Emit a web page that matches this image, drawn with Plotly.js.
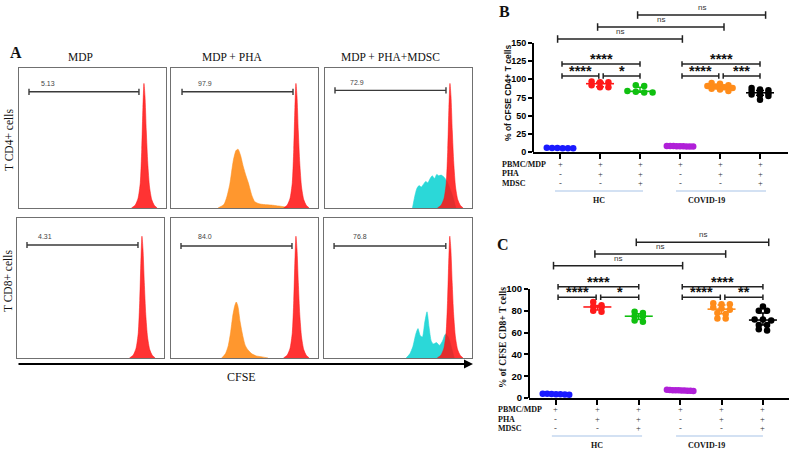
<!DOCTYPE html>
<html><head><meta charset="utf-8">
<script src="https://cdn.plot.ly/plotly-3.0.1.min.js"></script>
<style>html,body{margin:0;padding:0;background:#fff}#chart{width:799px;height:461px}</style>
</head><body><div id="chart"></div>
<script>
// ---------- Panel A: CFSE histogram curves (x: % of CFSE axis, y: % of box height) ----------
const red1X = [76.5, 79, 81, 82.5, 83.5, 84.3, 85, 85.7, 86.6, 87.6, 88.8, 90.3, 92, 94];
const red1Y = [0, 2, 7, 18, 42, 72, 89, 80, 55, 32, 15, 6, 2, 0];
const red2X = [76.5, 79, 81, 82.5, 83.5, 84.3, 85, 85.7, 86.6, 87.6, 88.8, 90.3, 92, 94];
const red2Y = [0, 2, 7, 18, 41, 70, 87, 78, 54, 31, 15, 6, 2, 0];
const orange1X = [32, 36, 38, 40, 42.4, 44.2, 45.6, 47.2, 49.2, 51, 52.6, 55, 57, 60, 63, 69, 76, 80];
const orange1Y = [0, 2.5, 8, 17, 34, 41, 42, 38, 29.5, 23, 18, 9, 4.5, 3, 2.5, 2, 1, 0];
const orange2X = [34.5, 37, 39, 40.5, 42, 43.3, 44.4, 45.5, 47, 49, 50.5, 52.4, 55, 58, 62, 66];
const orange2Y = [0, 3, 9, 18, 30, 37, 40, 37, 26, 15, 9, 5.7, 3, 1.5, 0.8, 0];
const cyan1X = [59.5, 61, 62.5, 64, 65.5, 67, 68.5, 70, 71.5, 73, 74.5, 76, 77.5, 79, 81, 83, 85, 87, 89];
const cyan1Y = [0, 8, 14, 16, 15, 17, 19, 18, 21, 23, 21, 24, 23, 23.5, 22, 19, 14, 8, 0];
const cyan2X = [55.5, 58, 60, 62, 63.5, 65, 66.5, 68, 69.6, 71, 72.5, 74, 76, 78, 80, 82, 84, 86, 88];
const cyan2Y = [0, 3, 8, 17, 21, 16, 15, 25, 33, 22, 12, 10, 11, 9, 12, 17, 15, 8, 0];
const gateLabels = ['5.13', '97.9', '72.9', '4.31', '84.0', '76.8'];
const columnTitles = ['MDP', 'MDP + PHA', 'MDP + PHA+MDSC'];
const rowTitles = ['T CD4+ cells', 'T CD8+ cells'];

// ---------- Panels B / C: groups ----------
const conditionLabels = ['PBMC/MDP', 'PHA', 'MDSC'];
const conditionSigns = [
  ['+', '+', '+', '+', '+', '+'],
  ['-', '+', '+', '-', '+', '+'],
  ['-', '-', '+', '-', '-', '+']
];
const cohortLabels = ['HC', 'COVID-19'];

// % of CFSE CD4+ T cells
const cd4_hc_mdp = [5.2, 5.6, 5.0, 5.4, 5.8, 5.3];
const cd4_hc_pha = [97, 96, 96, 92, 89, 89];
const cd4_hc_mdsc = [92, 91, 84, 83, 82, 82];
const cd4_cov_mdp = [7.5, 8.0, 7.8, 8.2, 7.6, 8.4, 7.9, 8.1, 7.7];
const cd4_cov_pha = [95, 94, 92, 91, 90, 89, 88, 87, 86, 84];
const cd4_cov_mdsc = [88, 86, 85, 84, 82, 81, 79, 78, 77, 72];

// % of CFSE CD8+ T cells
const cd8_hc_mdp = [3.5, 3.8, 3.2, 3.6, 3.0, 3.9, 3.4];
const cd8_hc_pha = [88, 85, 84, 83, 79, 80];
const cd8_hc_mdsc = [79, 78, 75, 75, 70, 71];
const cd8_cov_mdp = [6.5, 7.2, 6.8, 7.5, 6.9, 7.1, 6.6, 7.3, 7.0, 6.7];
const cd8_cov_pha = [87, 86, 86, 83, 82, 81, 78, 77, 73, 73];
const cd8_cov_mdsc = [84, 80, 80, 72, 72, 71, 67, 67, 62, 63];

// comparisons: [group a, group b, label]
const cd4Sig = [[1, 2, '****'], [2, 3, '*'], [1, 3, '****'], [4, 5, '****'], [5, 6, '***'], [4, 6, '****'], [1, 4, 'ns'], [2, 5, 'ns'], [3, 6, 'ns']];
const cd8Sig = [[1, 2, '****'], [2, 3, '*'], [1, 3, '****'], [4, 5, '****'], [5, 6, '**'], [4, 6, '****'], [1, 4, 'ns'], [2, 5, 'ns'], [3, 6, 'ns']];

// ---------- helpers ----------
const W = 799, H = 461;
const px = x => x / W, py = y => 1 - y / H;
const groupColors = ['#1a1aff', '#ff1a1a', '#10c010', '#b020d8', '#ff8c1a', '#000000'];
const traces = [], shapes = [], annotations = [];
const serif = 'Liberation Serif', sans = 'Liberation Sans';

function txt(x, y, text, o) {
  return Object.assign({xref: 'paper', yref: 'paper', x: px(x), y: py(y), text: text, showarrow: false,
    xanchor: 'center', yanchor: 'middle', font: {family: serif, size: 12, color: '#111'}}, o || {});
}

// ---------- Panel A ----------
const boxes = [
  {x0: 19, x1: 166, y0: 68, y1: 208}, {x0: 171, x1: 318, y0: 68, y1: 208}, {x0: 325, x1: 472, y0: 68, y1: 208},
  {x0: 17, x1: 164, y0: 218, y1: 358}, {x0: 171, x1: 318, y0: 218, y1: 358}, {x0: 324, x1: 472, y0: 218, y1: 358}
];
const gates = [
  {a: 6.8, b: 81.6, y: 83, lx: 20, ly: 89}, {a: 7.5, b: 83, y: 83, lx: 23, ly: 89}, {a: 6.8, b: 82.3, y: 84, lx: 22, ly: 90},
  {a: 6.8, b: 82.3, y: 80.7, lx: 19, ly: 87}, {a: 6.8, b: 82.3, y: 80, lx: 23, ly: 87}, {a: 6.8, b: 82.3, y: 80, lx: 24.5, ly: 87}
];
const histFill = {red: 'rgba(255,18,18,0.86)', orange: 'rgba(255,142,28,0.92)', cyan: 'rgba(32,214,214,0.95)'};
const histSpec = [
  [[red1X, red1Y, 'red']],
  [[orange1X, orange1Y, 'orange'], [red1X, red1Y, 'red']],
  [[cyan1X, cyan1Y, 'cyan'], [red1X, red1Y, 'red']],
  [[red2X, red2Y, 'red']],
  [[orange2X, orange2Y, 'orange'], [red2X, red2Y, 'red']],
  [[cyan2X, cyan2Y, 'cyan'], [red2X, red2Y, 'red']]
];
const layout = {
  width: W, height: H, margin: {l: 0, r: 0, t: 0, b: 0}, showlegend: false,
  paper_bgcolor: '#fff', plot_bgcolor: 'rgba(0,0,0,0)', hovermode: false
};
histSpec.forEach((list, k) => {
  const n = k + 3, bx = boxes[k], g = gates[k];
  layout['xaxis' + n] = {domain: [px(bx.x0), px(bx.x1)], range: [0, 100], anchor: 'y' + n, showgrid: false, zeroline: false,
    showticklabels: false, ticks: '', showline: true, mirror: true, linecolor: '#707070', linewidth: 1.2};
  layout['yaxis' + n] = {domain: [py(bx.y1), py(bx.y0)], range: [0, 100], anchor: 'x' + n, showgrid: false, zeroline: false,
    showticklabels: false, ticks: '', showline: true, mirror: true, linecolor: '#707070', linewidth: 1.2};
  list.forEach(([xs, ys, c]) => {
    traces.push({type: 'scatter', x: xs, y: ys, xaxis: 'x' + n, yaxis: 'y' + n, mode: 'lines',
      line: {color: histFill[c], width: 0.6, shape: 'spline', smoothing: 0.6}, fill: 'tozeroy', fillcolor: histFill[c], hoverinfo: 'skip'});
  });
  const xr = 'x' + n, yr = 'y' + n, gl = {color: '#3a3a3a', width: 1.4};
  shapes.push({type: 'line', xref: xr, yref: yr, x0: g.a, x1: g.b, y0: g.y, y1: g.y, line: gl});
  shapes.push({type: 'line', xref: xr, yref: yr, x0: g.a, x1: g.a, y0: g.y - 2.2, y1: g.y + 2.2, line: gl});
  shapes.push({type: 'line', xref: xr, yref: yr, x0: g.b, x1: g.b, y0: g.y - 2.2, y1: g.y + 2.2, line: gl});
  annotations.push({xref: xr, yref: yr, x: g.lx, y: g.ly, text: gateLabels[k], showarrow: false,
    font: {family: sans, size: 7, color: '#444'}});
});
annotations.push(txt(16, 52, '<b>A</b>', {font: {family: serif, size: 16, color: '#111'}}));
[80, 232, 390].forEach((x, i) => annotations.push(txt(x, 57, columnTitles[i], {font: {family: serif, size: 11.5, color: '#111'}})));
annotations.push(txt(9, 140, rowTitles[0], {textangle: -90, font: {family: serif, size: 11.5, color: '#111'}}));
annotations.push(txt(8, 281, rowTitles[1], {textangle: -90, font: {family: serif, size: 11.5, color: '#111'}}));
annotations.push(txt(241, 377, 'CFSE', {font: {family: serif, size: 12, color: '#111'}}));
annotations.push({xref: 'paper', yref: 'paper', x: px(473), y: py(364), ax: -456, ay: 0, text: '', showarrow: true,
  arrowhead: 2, arrowsize: 1, arrowwidth: 1.8, arrowcolor: '#000'});

// ---------- Panels B / C ----------
function quantile(arr, q) {
  const s = arr.slice().sort((a, b) => a - b);
  const pos = (s.length - 1) * q, lo = Math.floor(pos), hi = Math.ceil(pos);
  return s[lo] + (s[hi] - s[lo]) * (pos - lo);
}
function swarm(vals, center, bin, step, maxW) {
  const idx = vals.map((v, i) => i).sort((a, b) => vals[b] - vals[a]);
  const rows = [];
  idx.forEach(i => {
    const last = rows[rows.length - 1];
    if (last && last.start - vals[i] < bin) last.items.push(i); else rows.push({start: vals[i], items: [i]});
  });
  const xs = new Array(vals.length);
  rows.forEach(r => {
    const n = r.items.length, s = n > 1 ? Math.min(step, maxW / (n - 1)) : 0;
    r.items.forEach((i, k) => { xs[i] = center + (k - (n - 1) / 2) * s; });
  });
  return xs;
}

function panel(cfg) {
  const xa = cfg.xa, ya = cfg.ya;
  layout[xa === 'x' ? 'xaxis' : 'xaxis' + xa.slice(1)] = {domain: [px(cfg.xl), px(cfg.xr)], range: cfg.xrange, anchor: ya,
    showline: true, linecolor: '#000', linewidth: 2, ticks: 'outside', tickvals: [1, 2, 3, 4, 5, 6], ticklen: 5, tickwidth: 2,
    tickcolor: '#000', showticklabels: false, showgrid: false, zeroline: false};
  layout[ya === 'y' ? 'yaxis' : 'yaxis' + ya.slice(1)] = {domain: [py(cfg.yb), py(cfg.yt)], range: cfg.yrange, anchor: xa,
    showline: false, ticks: 'outside', tickvals: cfg.tickvals, ticklen: 4, tickwidth: 2, tickcolor: '#000',
    tickfont: {family: sans, size: cfg.tickSize, color: '#000', weight: 'bold'}, showgrid: false, zeroline: false};
  shapes.push({type: 'line', xref: xa + ' domain', yref: ya, x0: 0, x1: 0, y0: 0, y1: cfg.tickvals[cfg.tickvals.length - 1],
    line: {color: '#000', width: 2}});
  cfg.groups.forEach((vals, gi) => {
    const c = groupColors[gi], cx = gi + 1;
    const med = quantile(vals, 0.5), q1 = quantile(vals, 0.25), q3 = quantile(vals, 0.75);
    traces.push({type: 'scatter', x: [cx], y: [med], xaxis: xa, yaxis: ya, mode: 'markers', cliponaxis: false,
      marker: {symbol: 'line-ew', size: cfg.medSize, line: {color: c, width: 1.6}},
      error_y: {type: 'data', symmetric: false, array: [q3 - med], arrayminus: [med - q1], color: c, thickness: 1.5, width: 4}});
    traces.push({type: 'scatter', x: swarm(vals, cx, cfg.bin, cfg.step, cfg.maxW), y: vals, xaxis: xa, yaxis: ya,
      mode: 'markers', cliponaxis: false, marker: {color: c, size: cfg.msize}});
  });
  // significance brackets
  const bl = {color: '#222', width: 1.5};
  cfg.sig.forEach(([a, b, lab]) => {
    const span = b - a;
    let x0, x1, yv, cap;
    if (span === 1) { yv = cfg.tier[0]; cap = cfg.capS; if ((a - 1) % 3 === 0) { x0 = a + 0.05; x1 = b - 0.03; } else { x0 = a + 0.08; x1 = b; } }
    else if (span === 2) { yv = cfg.tier[1]; cap = cfg.capS; x0 = a + 0.05; x1 = b; }
    else { yv = cfg.tier[2 + (a - 1)]; cap = cfg.capN; x0 = a - 0.06; x1 = b + 0.06 + 0.04 * (a - 1); }
    shapes.push({type: 'line', xref: xa, yref: ya, x0: x0, x1: x1, y0: yv, y1: yv, line: bl});
    shapes.push({type: 'line', xref: xa, yref: ya, x0: x0, x1: x0, y0: yv - cap, y1: yv + cap, line: bl});
    shapes.push({type: 'line', xref: xa, yref: ya, x0: x1, x1: x1, y0: yv - cap, y1: yv + cap, line: bl});
    const isNs = lab === 'ns';
    annotations.push({xref: xa, yref: ya, x: (x0 + x1) / 2, y: yv, yanchor: 'bottom', yshift: isNs ? 1 : -5, showarrow: false,
      text: isNs ? lab : '<b>' + lab + '</b>',
      font: isNs ? {family: sans, size: 8, color: '#333'} : {family: sans, size: 14.5, color: '#111'}});
  });
  // condition rows
  conditionLabels.forEach((lab, r) => {
    annotations.push(txt(cfg.rowX, cfg.rowY[r], '<b>' + lab + '</b>', {xanchor: 'left', font: {family: serif, size: 8, color: '#111'}}));
    conditionSigns[r].forEach((s, gi) => {
      annotations.push({xref: xa, yref: 'paper', x: gi + 1, y: py(cfg.rowY[r]), text: s, showarrow: false,
        xanchor: 'center', yanchor: 'middle', font: {family: serif, size: 8.5, color: '#333'}});
    });
  });
  cfg.cohortSpans.forEach(([x0, x1], i) => {
    shapes.push({type: 'line', xref: xa, yref: 'paper', x0: x0, x1: x1, y0: py(cfg.lineY), y1: py(cfg.lineY),
      line: {color: '#a8c4e8', width: 1.2}});
    annotations.push(txt(cfg.cohortX[i], cfg.cohortTextY, '<b>' + cohortLabels[i] + '</b>', {font: {family: serif, size: 8, color: '#111'}}));
  });
  annotations.push(txt(cfg.letterPos[0], cfg.letterPos[1], '<b>' + cfg.letter + '</b>', {font: {family: serif, size: 16, color: '#111'}}));
  annotations.push(txt(cfg.titlePos[0], cfg.titlePos[1], '<b>' + cfg.title + '</b>', {textangle: -90, font: cfg.titleFont}));
}

panel({
  xa: 'x', ya: 'y', xl: 533, xr: 788, yb: 152, yt: 5, xrange: [0.325, 6.7], yrange: [0, 202.3],
  tickvals: [0, 25, 50, 75, 100, 125, 150], tickSize: 9,
  groups: [cd4_hc_mdp, cd4_hc_pha, cd4_hc_mdsc, cd4_cov_mdp, cd4_cov_pha, cd4_cov_mdsc],
  msize: 6.5, medSize: 20, bin: 4, step: 0.21, maxW: 0.66,
  sig: cd4Sig, tier: [104.6, 121.1, 155.5, 172, 188.5], capS: 3.7, capN: 5.2,
  rowX: 500, rowY: [164, 174, 183], lineY: 191, cohortSpans: [[0.875, 3.075], [3.9, 6.15]], cohortX: [599, 706], cohortTextY: 200,
  letter: 'B', letterPos: [504, 12], title: '% of CFSE CD4+ T cells', titlePos: [508, 93],
  titleFont: {family: sans, size: 8.5, color: '#111'}
});
panel({
  xa: 'x2', ya: 'y2', xl: 529, xr: 789, yb: 398, yt: 230, xrange: [0.348, 6.63], yrange: [0, 154.1],
  tickvals: [0, 20, 40, 60, 80, 100], tickSize: 9.5,
  groups: [cd8_hc_mdp, cd8_hc_pha, cd8_hc_mdsc, cd8_cov_mdp, cd8_cov_pha, cd8_cov_mdsc],
  msize: 6.5, medSize: 20, bin: 3.5, step: 0.2, maxW: 0.64,
  sig: cd8Sig, tier: [92.4, 102.1, 121.4, 132.1, 142.8], capS: 2.5, capN: 3.5,
  rowX: 496, rowY: [409, 419, 428], lineY: 436, cohortSpans: [[0.9, 3.08], [3.9, 6.0]], cohortX: [597, 706], cohortTextY: 445,
  letter: 'C', letterPos: [503, 244], title: '% of CFSE CD8+ T cells', titlePos: [503, 338],
  titleFont: {family: serif, size: 9.5, color: '#111'}
});

layout.shapes = shapes;
layout.annotations = annotations;
Plotly.newPlot('chart', traces, layout, {displayModeBar: false, staticPlot: true});
</script>
</body></html>
